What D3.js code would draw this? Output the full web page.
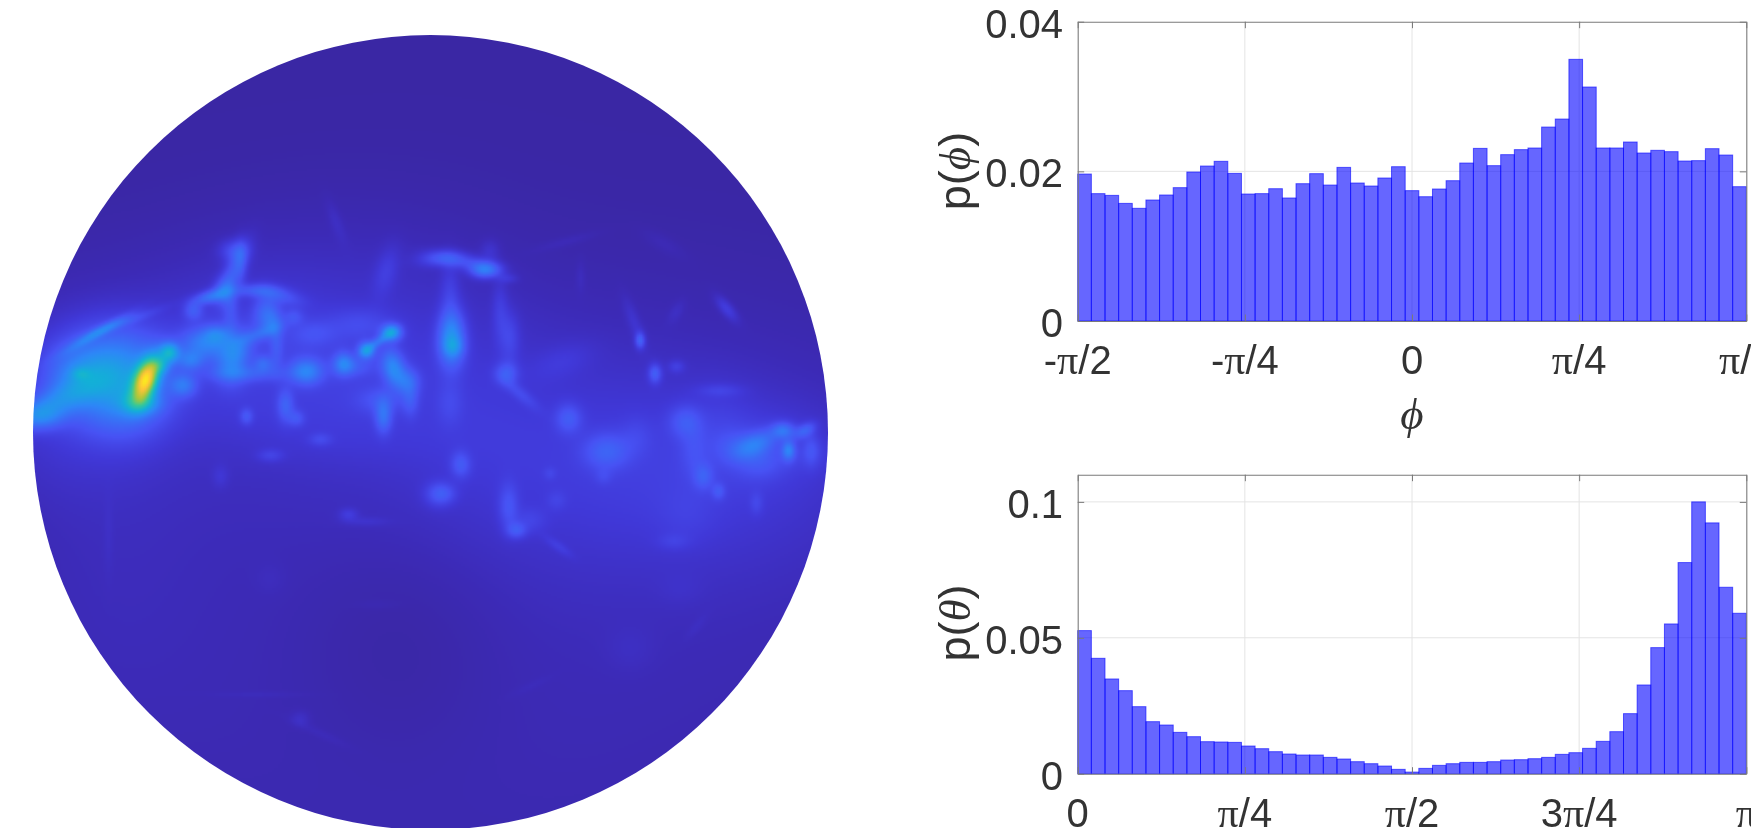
<!DOCTYPE html>
<html><head><meta charset="utf-8">
<style>html,body{margin:0;padding:0;background:#fff;overflow:hidden}svg{display:block}</style>
<script src="https://cdn.jsdelivr.net/npm/d3@7"></script>
</head><body><svg id="chart" width="1751" height="828"></svg>
<script>
const phiDensity=[.01964,.01702,.01679,.01572,.01506,.01617,.01684,.01782,.01991,.02071,.02134,.01973,.01697,.01702,.01768,.01644,.01835,.01969,.01817,.02053,.01844,.01804,.01911,.02062,.01742,.01661,.01764,.01875,.02111,.02307,.02076,.02223,.0229,.02312,.02592,.02699,.03497,.03127,.02312,.02312,.02392,.02245,.02281,.02263,.02138,.02143,.02303,.02218,.01795];
const thetaDensity=[.05264,.04245,.03485,.03055,.02466,.01914,.01791,.01521,.01362,.01178,.01166,.01153,.01018,.0092,.0081,.00724,.00687,.00687,.00601,.0054,.00442,.00368,.00282,.0016,.0006,.00196,.00307,.00368,.00417,.00417,.00442,.00503,.00515,.00552,.00601,.00712,.00773,.00933,.0119,.01546,.02209,.03264,.04638,.05509,.07767,.1,.09227,.06859,.05902];
const phiTicks=[-2,-1,0,1,2], phiTickLabels=[["-","π","/2"],["-","π","/4"],["0"],["","π","/4"],["","π","/2"]];
const thetaTicks=[0,1,2,3,4], thetaTickLabels=[["0"],["","π","/4"],["","π","/2"],["3","π","/4"],["","π",""]];
const phiYTicks=[0,.02,.04], thetaYTicks=[0,.05,.1];
// Density map features: [u, v, spreadU, spreadV, tiltDeg, level]; u,v in disc units
const broadFeatures=[[-100,-60,250,85,0,.035],[200,40,230,95,0,.04],[0,240,390,190,0,.03],[-30,205,75,85,0,-.028],[-200,-120,120,60,-25,.03],[300,60,110,60,0,.015],[-360,-30,60,60,0,.05],[-320,130,70,110,0,.015],
[-200,-75,70,30,0,.025],[-150,-100,50,40,0,.02],[-60,-75,50,30,0,.025],[-70,-30,50,25,0,.02],[-170,-20,50,18,0,.015],[-100,10,80,20,0,.015],[40,-60,50,80,0,.015],[-30,-150,50,40,0,.012],[120,30,80,60,0,.012],[260,30,80,60,0,.02],[340,15,50,30,0,.03]];
const hotSpots=[
[-324,-66,32,26,0,.15],[-350,-59,22,16,0,.1],[-350,-59,6,4,0,.08],[-377,-29,28,10,-25,.16],[-390,-16,14,8,0,.12],[-300,-46,25,30,0,.1],[-290,-29,12,7,0,.17],[-317,-26,30,20,0,.07],[-284.5,-53,7,14,20,.68],[-261,-80,6,6,0,.28],[-270,-67,6,5,0,.14],[-247,-47,8,7,0,.14],[-240,-72,8,6,0,.12],[-334,-99,22,3,-30,.11],[-310,-109,25,3,-20,.06],[-227,-89,14,10,0,.16],[-214,-98,8,6,0,.11],[-200,-72,10,15,0,.14],[-190,-86,8,12,20,.08],[-237,-122,6,6,0,.1],[-220,-136,10,4,-15,.16],[-207,-142,6,8,0,.08],[-197,-161,6,20,25,.1],[-197,-182,9,7,0,.09],[-190,-169,4,14,0,.06],[-200,-126,5,18,0,.07],[-177,-142,14,4,0,.09],[-150,-137,14,5,15,.08],[-164,-119,8,12,0,.12],[-157,-109,6,8,0,.06],[-170,-99,14,4,-20,.08],[-154,-86,4,14,0,.06],[-167,-69,6,5,0,.1],[-184,-59,25,5,0,.08],[-124,-61,10,8,0,.18],[-137,-116,6,5,0,.06],[-117,-99,14,8,0,.05],[-87,-69,6,7,0,.15],[-64,-82,5,5,0,.24],[-39,-100,6,5,0,.27],[-52,-91,10,3,-35,.12],[-37,-64,7,12,-15,.2],[-22,-51,7,8,0,.11],[-70,-109,20,10,0,.05],[-77,-66,12,6,0,.07],[-47,-16,5,10,0,.14],[-50,-32,14,8,0,.06],[-20,-32,5,10,0,.07],[-145,-27,5,10,0,.1],[-134,-14,5,5,0,.07],[-184,-16,4,5,0,.08],[-160,23,8,4,0,.05],[-110,7,7,4,0,.05],[-44,-162,7,16,15,.05],[-95,-212,4,14,-20,.025],[-210,44,5,7,0,.03],[31,34,6,8,0,.04],[13,61,8,6,0,.05],
[21,-94,8,17,0,.25],[23,-86,6,6,0,.09],[54.5,-162.5,9,5,0,.2],[33,-171,20,5,10,.09],[9.5,-174,14,5,-5,.08],[59.5,-182,6,7,0,.04],[19.5,-142,6,20,0,.05],[78,-154,6,3,0,.04],[69.5,-122,5,20,0,.05],[79.5,-96,6,16,0,.06],[76,-59,7,7,0,.1],[89.5,-39,14,4,40,.05],[19.5,-29,8,14,0,.04],[29.5,31,6,8,0,.05],[8,62,9,8,0,.07],[78,74,6,14,0,.08],[86,98,6,5,0,.09],[99.5,88,10,8,0,.04],[128,114,10,3,35,.035],[126,68,6,6,0,.03],[119.5,41,4,4,0,.03],[138,-14,8,9,0,.09],[133,-72,20,10,-20,.03],[176,19,14,11,0,.1],[206,4,10,12,0,.03],[173,44,5,5,0,.03],[209.5,-92,3,5,0,.13],[203,-112,4,16,-20,.035],[224.5,-59,4,6,0,.12],[246,-66,5,4,0,.05],[246,-121,4,8,30,.025],[296,-124,4,10,-40,.07],[150,-156,3,10,0,.02],[136,-191,20,3,-15,.02],[233,-189,15,5,30,.02],[254.5,-11,10,10,0,.08],[289.5,-42,14,4,0,.04],[263,18,8,16,0,.04],[273,44,6,8,0,.08],[288,59,4,5,0,.07],[326,71,4,7,0,.04],[256,84,18,18,0,.02],[243,109,10,5,0,.03],[326,11,14,7,-25,.13],[353,-2,7,5,0,.14],[358,18,4,6,0,.17],[374.5,-2,7,4,-30,.11],[381,18,5,10,0,.06],[306,14,14,10,0,.05],[329,31,14,10,0,.05],[289,-12,20,25,0,.02],[366,21,28,10,0,.02],
[-82,82,6,4,0,.05],[-64,89,14,3,0,.025],[-130,286,6,5,0,.03],[-110,301,20,3,25,.015],[-170,262,30,2,0,.012],[-160,147,10,10,0,.012],[-322,104,3,25,0,.012],[-54,172,14,3,0,.01],[200,217,15,14,0,.015],[250,157,14,10,0,.012],[266,194,3,10,40,.012],[99.5,254,14,3,-25,.01]];
const colorLevels=[0,.03,.08,.143,.286,.429,.571,.714,.857,1];
const parulaStops=["#3a27a4","#3c2ab6","#4038d8","#4752f4","#2d87f7","#12b1d6","#37c897","#abc739","#fec338","#f9fb15"];
const kernelWiden=1.12;

const svg=d3.select("#chart");
const textColor="#333333",sans="'Liberation Sans',Arial,sans-serif",serif="'Liberation Serif','Times New Roman',serif";
const root=svg.append("g").style("filter","blur(0.55px)");

// ---- density disc
const disc={cx:430.5,cy:432.5,r:397.5};
const uScale=d3.scaleLinear([-400,400],[disc.cx-400,disc.cx+400]);
const vScale=d3.scaleLinear([-400,400],[disc.cy-400,disc.cy+400]);
const levelColor=d3.scaleLinear(colorLevels,parulaStops).clamp(true);
const N=400,cell=800/N,field=new Float32Array(N*N);
broadFeatures.concat(hotSpots.map(h=>[h[0],h[1],h[2]*kernelWiden,h[3]*kernelWiden,h[4],h[5]])).forEach(([u,v,su,sv,deg,lvl])=>{
  const t=deg*Math.PI/180,c=Math.cos(t),s=Math.sin(t),m=3.2*Math.max(su,sv);
  const i0=Math.max(0,Math.floor((u-m+400)/cell)),i1=Math.min(N-1,Math.ceil((u+m+400)/cell));
  const j0=Math.max(0,Math.floor((v-m+400)/cell)),j1=Math.min(N-1,Math.ceil((v+m+400)/cell));
  for(let j=j0;j<=j1;j++)for(let i=i0;i<=i1;i++){
    const dx=(i+.5)*cell-400-u,dy=(j+.5)*cell-400-v;
    const a=(dx*c+dy*s)/su,b=(-dx*s+dy*c)/sv;
    field[j*N+i]+=lvl*Math.exp(-.5*(a*a+b*b));
  }
});
const canvas=document.createElement("canvas");canvas.width=canvas.height=N;
const ctx=canvas.getContext("2d"),img=ctx.createImageData(N,N);
field.forEach((val,k)=>{
  const col=d3.rgb(levelColor(Math.max(0,val)));
  img.data[k*4]=col.r;img.data[k*4+1]=col.g;img.data[k*4+2]=col.b;img.data[k*4+3]=255;
});
ctx.putImageData(img,0,0);
svg.append("defs").append("clipPath").attr("id","discClip").append("circle").attr("cx",disc.cx).attr("cy",disc.cy).attr("r",disc.r);
root.append("g").attr("clip-path","url(#discClip)").append("image")
  .attr("href",canvas.toDataURL()).attr("x",uScale(-400)).attr("y",vScale(-400))
  .attr("width",uScale(400)-uScale(-400)).attr("height",vScale(400)-vScale(-400));

// ---- histograms
function histogram(o){
  const g=root.append("g");
  const x=d3.scaleLinear(o.xDomain,[1077.7,1746.3]);
  const y=d3.scaleLinear([0,o.yMax],[o.bottom,o.top]);
  const step=(o.xDomain[1]-o.xDomain[0])/o.values.length;
  g.append("g").selectAll("line").data(o.xTicks.slice(1,-1)).join("line")
    .attr("x1",d=>x(d)).attr("x2",d=>x(d)).attr("y1",o.top).attr("y2",o.bottom).attr("stroke","#e4e4e4");
  g.append("g").selectAll("line").data(o.yTicks.slice(1).filter(d=>d<o.yMax)).join("line")
    .attr("y1",d=>y(d)).attr("y2",d=>y(d)).attr("x1",x.range()[0]).attr("x2",x.range()[1]).attr("stroke","#e4e4e4");
  g.append("g").selectAll("rect").data(o.values).join("rect")
    .attr("x",(d,i)=>x(o.xDomain[0]+i*step)).attr("width",(d,i)=>x(o.xDomain[0]+(i+1)*step)-x(o.xDomain[0]+i*step))
    .attr("y",d=>y(d)).attr("height",d=>y(0)-y(d))
    .attr("fill","#0000ff").attr("fill-opacity",.6).attr("stroke","#0000ff").attr("stroke-opacity",.6).attr("stroke-width",1);
  const xAxis=d3.axisBottom(x).tickValues(o.xTicks).tickSize(-6.5).tickSizeOuter(0).tickFormat("");
  const xTop=d3.axisTop(x).tickValues(o.xTicks).tickSize(-6.5).tickSizeOuter(0).tickFormat("");
  const yAxis=d3.axisLeft(y).tickValues(o.yTicks).tickSize(-6.5).tickSizeOuter(0).tickFormat("");
  const yRight=d3.axisRight(y).tickValues(o.yTicks).tickSize(-6.5).tickSizeOuter(0).tickFormat("");
  const axes=[[xAxis,0,o.bottom],[xTop,0,o.top],[yAxis,x.range()[0],0],[yRight,x.range()[1],0]];
  axes.forEach(([a,tx,ty])=>{
    const ag=g.append("g").attr("transform",`translate(${tx},${ty})`).call(a);
    ag.selectAll(".domain").attr("stroke","#7a7a7a").attr("stroke-width",1.1);
    ag.selectAll(".tick line").attr("stroke","#7a7a7a");
    ag.selectAll("text").remove();
  });
  const xl=g.append("g").attr("font-family",sans).attr("font-size",40).attr("fill",textColor).attr("text-anchor","middle");
  o.xTicks.forEach((t,i)=>{
    const tx=xl.append("text").attr("x",x(t)).attr("y",o.bottom+53);
    const parts=o.xLabels[i];
    tx.append("tspan").text(parts[0]);
    if(parts[1]){tx.append("tspan").attr("font-family",serif).attr("font-size",42).text(parts[1]);tx.append("tspan").text(parts[2]);}
  });
  g.append("g").attr("font-family",sans).attr("font-size",40).attr("fill",textColor).attr("text-anchor","end")
    .selectAll("text").data(o.yTicks).join("text").attr("x",1063).attr("y",d=>y(d)+16).text(d=>d);
  const yl=g.append("text").attr("transform",`translate(970,${o.yLabelY}) rotate(-90)`).attr("text-anchor","middle")
    .attr("font-family",sans).attr("font-size",45).attr("fill",textColor);
  yl.append("tspan").text("p(");
  yl.append("tspan").attr("font-family",serif).attr("font-style","italic").text(o.symbol);
  yl.append("tspan").text(")");
  return {x,y,g};
}
const phi=histogram({values:phiDensity,xDomain:[-2,2],xTicks:phiTicks,xLabels:phiTickLabels,yMax:.04,yTicks:phiYTicks,top:21.7,bottom:321,symbol:"ϕ",yLabelY:171});
histogram({values:thetaDensity,xDomain:[0,4],xTicks:thetaTicks,xLabels:thetaTickLabels,yMax:.11,yTicks:thetaYTicks,top:474.7,bottom:773.7,symbol:"θ",yLabelY:623});
phi.g.append("text").attr("x",phi.x(0)).attr("y",429).attr("text-anchor","middle")
  .attr("font-family",serif).attr("font-style","italic").attr("font-size",45).attr("fill",textColor).text("ϕ");
</script></body></html>
